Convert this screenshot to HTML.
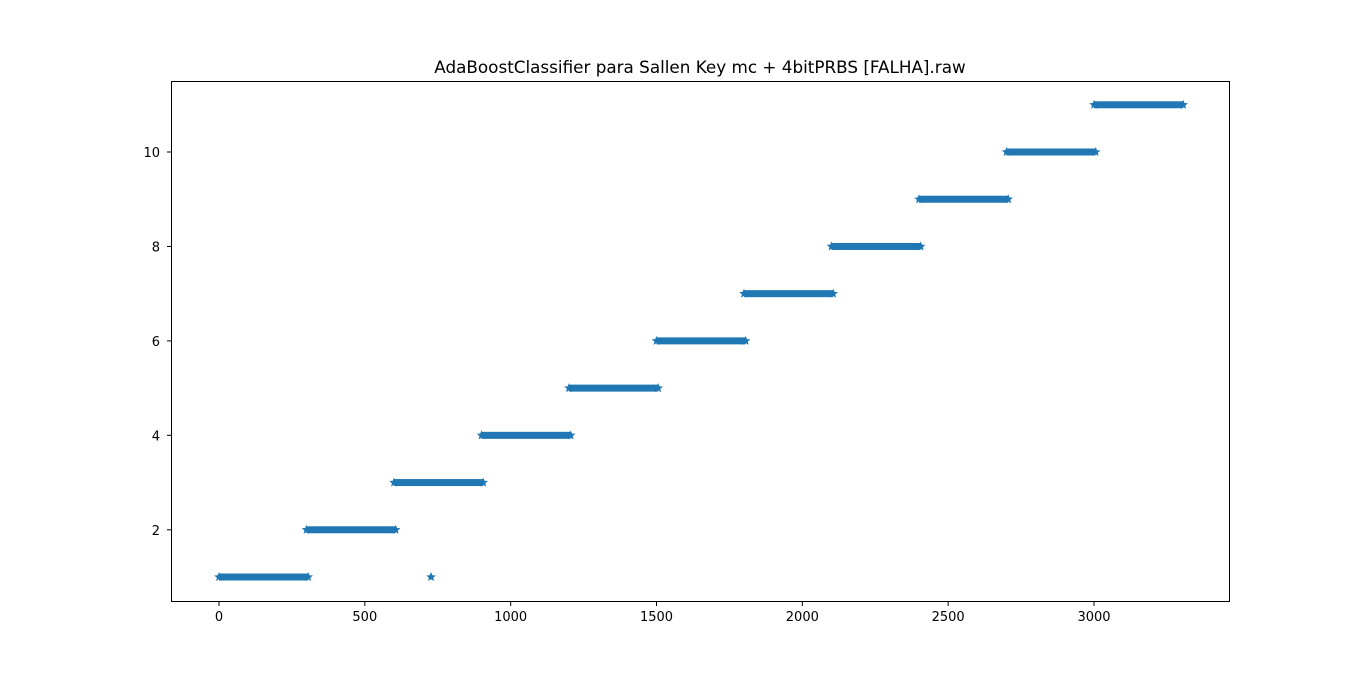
<!DOCTYPE html>
<html><head><meta charset="utf-8"><style>
body{margin:0;background:#fff;}
svg text{font-family:"DejaVu Sans","Liberation Sans",sans-serif;}
</style></head><body>
<svg id="chart" width="1366" height="675" xmlns="http://www.w3.org/2000/svg">
<rect width="1366" height="675" fill="#fff"/>
<text x="700" y="73" font-size="16.8" text-anchor="middle">AdaBoostClassifier para Sallen Key mc + 4bitPRBS [FALHA].raw</text>
<g id="marks"></g>
<rect x="171.5" y="81.5" width="1058" height="520" fill="none" stroke="#000" stroke-width="1"/>
<g id="axes"></g>
</svg>
<script>
const segStarts=[0,300,600,900,1200,1500,1800,2100,2400,2700,3000];
const segEnds=[299,599,899,1199,1499,1799,2099,2399,2699,2999,3299];
const segClasses=[1,2,3,4,5,6,7,8,9,10,11];
const outlierX=[727];
const outlierY=[1];
const xTicks=[0,500,1000,1500,2000,2500,3000];
const yTicks=[2,4,6,8,10];
const NS="http://www.w3.org/2000/svg";
function xs(v){return 219+v*(1094-219)/3000;}
function ys(v){return 577-(v-1)*(577-152)/9;}
const marks=document.getElementById('marks');
const axes=document.getElementById('axes');
const C="#1f77b4";
function star(cx,cy,r){
  let p=[];for(let i=0;i<10;i++){const a=-Math.PI/2+i*Math.PI/5;const rr=i%2?r*0.45:r;p.push((cx+rr*Math.cos(a)).toFixed(1)+','+(cy+rr*Math.sin(a)).toFixed(1));}
  const s=document.createElementNS(NS,'polygon');s.setAttribute('points',p.join(' '));s.setAttribute('fill',C);return s;
}
segStarts.forEach((s,i)=>{
  const g=document.createElementNS(NS,'g');
  
  
  const x0=xs(s),x1=xs(segEnds[i])+2,y=ys(segClasses[i]);
  const r=document.createElementNS(NS,'rect');
  r.setAttribute('x',x0);r.setAttribute('y',y-3.5);r.setAttribute('width',x1-x0);r.setAttribute('height',7);r.setAttribute('fill',C);
  g.appendChild(r);g.appendChild(star(x0,y,5));g.appendChild(star(x1,y,5));
  marks.appendChild(g);
});
outlierX.forEach((x,i)=>{
  const s=star(xs(x),ys(outlierY[i]),5);
  
  
  marks.appendChild(s);
});
xTicks.forEach(t=>{
  const x=xs(t);
  const l=document.createElementNS(NS,'line');l.setAttribute('x1',x);l.setAttribute('x2',x);l.setAttribute('y1',601.5);l.setAttribute('y2',606);l.setAttribute('stroke','#000');
  axes.appendChild(l);
  const tx=document.createElementNS(NS,'text');tx.setAttribute('x',x);tx.setAttribute('y',621);tx.setAttribute('font-size','13');tx.setAttribute('text-anchor','middle');tx.textContent=t;
  
  
  axes.appendChild(tx);
});
yTicks.forEach(t=>{
  const y=ys(t);
  const l=document.createElementNS(NS,'line');l.setAttribute('x1',167);l.setAttribute('x2',171.5);l.setAttribute('y1',y);l.setAttribute('y2',y);l.setAttribute('stroke','#000');
  axes.appendChild(l);
  const tx=document.createElementNS(NS,'text');tx.setAttribute('x',160);tx.setAttribute('y',y+5);tx.setAttribute('font-size','13');tx.setAttribute('text-anchor','end');tx.textContent=t;
  
  
  axes.appendChild(tx);
});
</script>
</body></html>
